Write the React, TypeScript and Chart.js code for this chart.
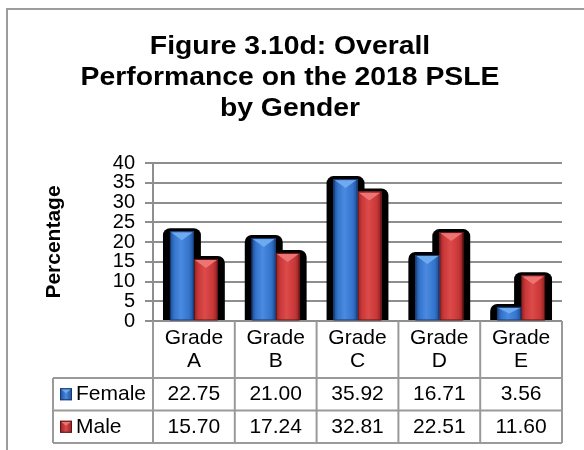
import React, { useEffect, useRef } from "react";
import { Chart, registerables } from "chart.js";

Chart.register(...registerables);

// ---- data ----
const categories = ["Grade A", "Grade B", "Grade C", "Grade D", "Grade E"];
const seriesNames = ["Female", "Male"];
const femaleValues = [22.75, 21.0, 35.92, 16.71, 3.56];
const maleValues = [15.7, 17.24, 32.81, 22.51, 11.6];
const titleLines = ["Figure 3.10d: Overall", "Performance on the 2018 PSLE", "by Gender"];
const yAxisTitle = "Percentage";
const yMin = 0;
const yMax = 40;
const yStep = 5;

// ---- styles ----
const FONT = "'Liberation Sans', Arial, Helvetica, sans-serif";
const GRID = "#8e8e8e";
const TABLE_LINE = "#9a9a9a";
const palettes = [
  { base: "#3574cc", dark: "#1d4c94", light: "#4a8ae0", bevel: "#6eaaf0", edge: "#163a70" },
  { base: "#c93838", dark: "#8f2020", light: "#dc4a4a", bevel: "#ee7474", edge: "#5e1414" },
];

const shadowPlugin = {
  id: "barShadow",
  beforeDatasetsDraw(chart: any) {
    const ctx = chart.ctx;
    ctx.save();
    ctx.fillStyle = "#000";
    chart.data.datasets.forEach((_ds: any, di: number) => {
      const meta = chart.getDatasetMeta(di);
      meta.data.forEach((el: any) => {
        const { x, y, base, width } = el.getProps(["x", "y", "base", "width"], true);
        const l = x - width / 2 - 7;
        const r = x + width / 2 + 7;
        const t = y - 3;
        ctx.beginPath();
        ctx.roundRect(l, t, r - l, base - t, [7, 7, 0, 0]);
        ctx.fill();
      });
    });
    ctx.restore();
  },
  afterDatasetDraw(chart: any, args: any) {
    const ctx = chart.ctx;
    const di = args.index;
    const pal = palettes[di];
    const meta = chart.getDatasetMeta(di);
    ctx.save();
    meta.data.forEach((el: any) => {
      const { x, y, base, width } = el.getProps(["x", "y", "base", "width"], true);
      const l = x - width / 2;
      const r = x + width / 2;
      const h = base - y;
      const g = ctx.createLinearGradient(l, 0, r, 0);
      g.addColorStop(0, pal.dark);
      g.addColorStop(0.18, pal.base);
      g.addColorStop(0.45, pal.light);
      g.addColorStop(0.8, pal.base);
      g.addColorStop(1, pal.dark);
      ctx.fillStyle = g;
      ctx.fillRect(l, y, width, h);
      // top bevel
      const bh = Math.min(9, h / 2);
      ctx.fillStyle = pal.bevel;
      ctx.beginPath();
      ctx.moveTo(l + 1, y + 1);
      ctx.lineTo(r - 1, y + 1);
      ctx.lineTo(x, y + bh);
      ctx.closePath();
      ctx.fill();
      ctx.strokeStyle = pal.edge;
      ctx.lineWidth = 1;
      ctx.strokeRect(l + 0.5, y + 0.5, width - 1, h - 0.5);
    });
    ctx.restore();
  },
};

const decorPlugin = {
  id: "decor",
  afterDraw(chart: any) {
    const ctx = chart.ctx;
    const area = chart.chartArea;
    ctx.save();

    // outer chart border
    ctx.strokeStyle = "#9c9c9c";
    ctx.lineWidth = 2;
    ctx.strokeRect(7, 9, 640, 520);

    // title
    ctx.fillStyle = "#000";
    ctx.font = `bold 26px ${FONT}`;
    ctx.textAlign = "center";
    ctx.textBaseline = "alphabetic";
    const baselines = [54, 85, 116];
    titleLines.forEach((line, i) => {
      ctx.save();
      ctx.translate(290, baselines[i]);
      ctx.scale(1.09, 1);
      ctx.fillText(line, 0, 0);
      ctx.restore();
    });

    // data table
    const n = categories.length;
    const colW = (area.right - area.left) / n;
    const headerBottom = area.bottom + 57;
    const rowH = 32.5;
    const tableBottom = headerBottom + rowH * 2;
    const tableLeft = 53;

    ctx.strokeStyle = TABLE_LINE;
    ctx.lineWidth = 2;
    ctx.beginPath();
    for (let i = 0; i <= n; i++) {
      const bx = area.left + i * colW;
      ctx.moveTo(bx, area.bottom);
      ctx.lineTo(bx, tableBottom);
    }
    for (let r = 0; r <= 2; r++) {
      const yy = headerBottom + r * rowH;
      ctx.moveTo(tableLeft, yy);
      ctx.lineTo(area.right, yy);
    }
    ctx.moveTo(tableLeft, headerBottom);
    ctx.lineTo(tableLeft, tableBottom);
    ctx.stroke();

    ctx.fillStyle = "#000";
    ctx.font = `21px ${FONT}`;
    ctx.textAlign = "center";
    ctx.textBaseline = "middle";
    const xs = chart.scales.x;
    categories.forEach((c, i) => {
      const cx = xs.getPixelForValue(i);
      const parts = c.split(" ");
      ctx.fillText(parts[0], cx, area.bottom + 17);
      ctx.fillText(parts[1], cx, area.bottom + 40);
    });
    const series = [femaleValues, maleValues];
    series.forEach((vals, si) => {
      const cy = headerBottom + rowH * si + rowH / 2;
      vals.forEach((v, i) => {
        ctx.fillStyle = "#000";
        ctx.textAlign = "center";
        ctx.fillText(v.toFixed(2), xs.getPixelForValue(i), cy);
      });
      // legend key
      const pal = palettes[si];
      const kx = 60;
      const ky = cy - 6;
      const g = ctx.createLinearGradient(kx, 0, kx + 12, 0);
      g.addColorStop(0, pal.dark);
      g.addColorStop(0.5, pal.light);
      g.addColorStop(1, pal.dark);
      ctx.fillStyle = g;
      ctx.fillRect(kx, ky, 12, 12);
      ctx.fillStyle = pal.bevel;
      ctx.beginPath();
      ctx.moveTo(kx + 1, ky + 1);
      ctx.lineTo(kx + 11, ky + 1);
      ctx.lineTo(kx + 6, ky + 5);
      ctx.closePath();
      ctx.fill();
      ctx.strokeStyle = pal.edge;
      ctx.lineWidth = 1;
      ctx.strokeRect(kx + 0.5, ky + 0.5, 11, 11);
      ctx.fillStyle = "#000";
      ctx.textAlign = "left";
      ctx.fillText(seriesNames[si], 76, cy);
    });

    ctx.restore();
  },
};

export default function App() {
  const ref = useRef<HTMLCanvasElement | null>(null);
  useEffect(() => {
    if (!ref.current) return;
    const chart = new Chart(ref.current, {
      type: "bar",
      data: {
        labels: categories,
        datasets: [
          { label: seriesNames[0], data: femaleValues, backgroundColor: palettes[0].base, borderWidth: 0 },
          { label: seriesNames[1], data: maleValues, backgroundColor: palettes[1].base, borderWidth: 0 },
        ],
      },
      options: {
        responsive: false,
        animation: false,
        devicePixelRatio: 1,
        layout: { padding: { top: 163, right: 22, bottom: 129, left: 0 } },
        plugins: {
          legend: { display: false },
          title: { display: false },
          tooltip: { enabled: false },
        },
        datasets: { bar: { categoryPercentage: 0.585, barPercentage: 1.0 } },
        scales: {
          x: { display: false },
          y: {
            min: yMin,
            max: yMax,
            afterFit: (scale: any) => {
              scale.width = 153;
            },
            ticks: {
              stepSize: yStep,
              autoSkip: false,
              padding: 10,
              color: "#000",
              font: { family: FONT, size: 20, lineHeight: 1 },
            },
            grid: { color: GRID, lineWidth: 2, tickLength: 8, drawTicks: true },
            border: { display: true, color: GRID, width: 2 },
            title: {
              display: true,
              text: yAxisTitle,
              color: "#000",
              font: { family: FONT, size: 21, weight: "bold" },
              padding: { top: 42, bottom: 0 },
            },
          },
        },
      },
      plugins: [shadowPlugin, decorPlugin],
    });
    return () => chart.destroy();
  }, []);
  return (
    <div style={{ position: "fixed", left: 0, top: 0, width: 584, height: 450, background: "#fff" }}>
      <canvas ref={ref} width={584} height={450} style={{ display: "block", width: 584, height: 450 }} />
    </div>
  );
}
